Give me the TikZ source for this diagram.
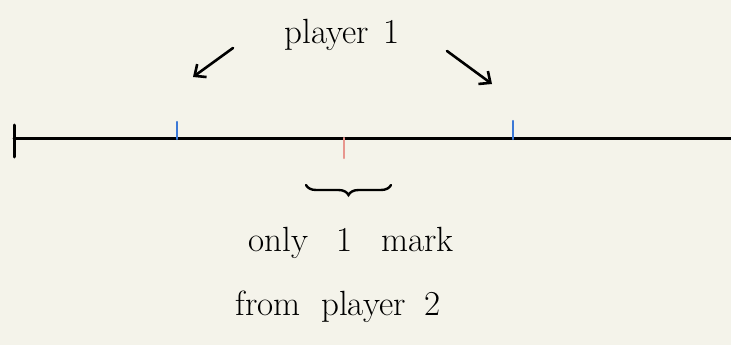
\documentclass[tikz,border=0pt]{standalone}
\usepackage{fontspec}
\usetikzlibrary{arrows.meta,decorations.pathreplacing}
\definecolor{paper}{HTML}{F4F3EA}
\definecolor{tickblue}{HTML}{3B78D6}
\definecolor{tickred}{HTML}{E8968E}
\tikzset{
  ink/.style={line width=3pt, black, line cap=round},
  bluetick/.style={line width=2.4pt, tickblue, line cap=round},
  redtick/.style={line width=2.4pt, tickred, line cap=round},
  handarrow/.style={line width=2.6pt, line cap=round, -{Straight Barb[length=9pt,width=16pt,line width=2.6pt]}},
  label/.style={font=\fontsize{35}{38}\selectfont, inner sep=0pt, anchor=base}
}
\newcommand{\gap}[1]{\hspace{#1}}
\begin{document}
\begin{tikzpicture}[x=1pt,y=-1pt]
  % page
  \fill[paper] (0,0) rectangle (731,345);
  \useasboundingbox (0,0) rectangle (731,345);

  % the number line with its left end stop
  \coordinate (lineL) at (14,138);
  \coordinate (lineR) at (731,138);
  \draw[ink] (lineL) -- (lineR);
  \draw[ink] (14,125) -- (14,157);

  % player 1's two marks and player 2's single mark
  \draw[bluetick] (177,122) -- (177,139);
  \draw[bluetick] (513,121) -- (513,139);
  \draw[redtick] (344,138) -- (344,158);

  % heading and its arrows
  \node[label] (p1) at (342,44) {player\gap{4pt} 1};
  \coordinate (la) at (233,48);
  \coordinate (lb) at (193,77);
  \coordinate (ra) at (447,51);
  \coordinate (rb) at (492,84);
  \draw[handarrow] (la) -- (lb);
  \draw[handarrow] (ra) -- (rb);

  % brace under the red mark
  \coordinate (bl) at (306,185);
  \coordinate (br) at (391,185);
  \draw[ink, line width=2.4pt, decorate, decoration={brace, mirror, amplitude=10pt}] (bl) -- (br);

  % caption
  \node[label] (c1) at (351,251) {only\gap{18pt} 1\gap{18pt} mark};
  \node[label] (c2) at (338,315) {from\gap{10pt} player\gap{8pt} 2};
\end{tikzpicture}
\end{document}
